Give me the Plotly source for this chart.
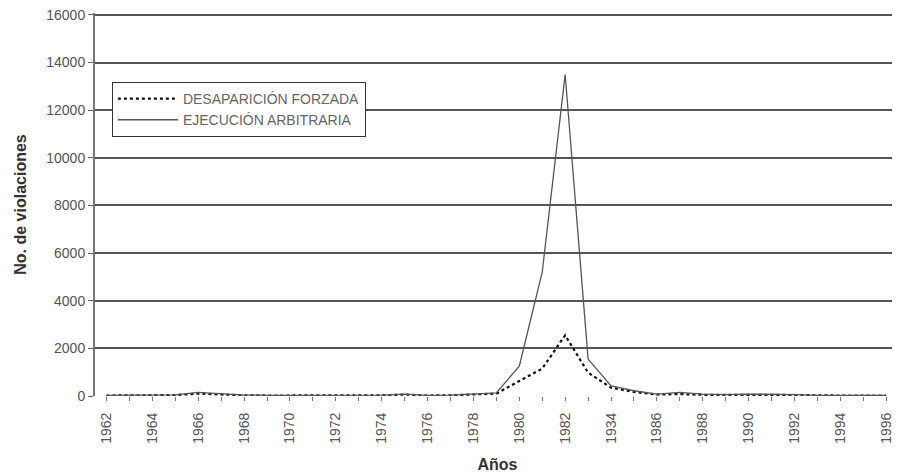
import plotly.graph_objects as go

years = list(range(1962, 1997))
ejecucion = [30, 30, 30, 50, 150, 100, 40, 30, 30, 30, 30, 30, 40, 80, 30, 40, 80, 130,
             1250, 5200, 13500, 1550, 420, 220, 80, 150, 80, 60, 80, 80, 60, 30, 20, 20, 20]
desaparicion = [20, 20, 20, 40, 100, 60, 30, 20, 20, 20, 20, 20, 30, 60, 20, 30, 60, 100,
                630, 1150, 2550, 980, 350, 170, 60, 80, 50, 60, 60, 50, 40, 20, 20, 20, 20]
tick_years = list(range(1962, 1997, 2))
tick_labels = ["1962", "1964", "1966", "1968", "1970", "1972", "1974", "1976", "1978",
               "1980", "1982", "1934", "1986", "1988", "1990", "1992", "1994", "1996"]
y_ticks = [0, 2000, 4000, 6000, 8000, 10000, 12000, 14000, 16000]
y_labels = ["0", "2000", "4000", "6000", "8000", "10000", "12000", "14000", "16000"]

fig = go.Figure()
fig.add_trace(go.Scatter(x=years, y=desaparicion, mode="lines", name="DESAPARICIÓN FORZADA",
                         line=dict(color="#111111", width=2.2, dash="dot")))
fig.add_trace(go.Scatter(x=years, y=ejecucion, mode="lines", name="EJECUCIÓN ARBITRARIA",
                         line=dict(color="#555555", width=1.3)))

fig.update_layout(
    width=892, height=467,
    margin=dict(l=87, r=0, t=5, b=79),
    paper_bgcolor="white", plot_bgcolor="white",
    font=dict(family="Liberation Sans, Arial", color="#555555", size=13),
    showlegend=True,
    legend=dict(x=0.021, y=0.82, xanchor="left", yanchor="top",
                bgcolor="white", bordercolor="#333333", borderwidth=1,
                font=dict(size=14, color="#666666"), tracegroupgap=0,
                itemwidth=60),
    xaxis=dict(range=[1961.5, 1996.6], tickmode="array", tickvals=tick_years,
               ticktext=tick_labels, tickangle=-90, ticks="outside", ticklen=4,
               tickcolor="#777777", showgrid=False, zeroline=False,
               showline=False, tickfont=dict(size=14, color="#555555"),
               ticklabelstandoff=6,
               minor=dict(tickvals=years, ticks="outside", ticklen=4, tickcolor="#777777"),
               title=dict(text="<b>Años</b>", font=dict(size=16, color="#333333"), standoff=16)),
    yaxis=dict(range=[0, 16080], tickmode="array", tickvals=y_ticks, ticktext=y_labels,
               ticks="outside", ticklen=5, tickcolor="#666666",
               showgrid=True, gridcolor="#555555", gridwidth=1.5,
               showline=True, linecolor="#777777", linewidth=2,
               zeroline=False, tickfont=dict(size=14, color="#555555"),
               ticklabeloverflow="allow",
               title=dict(text="<b>No. de violaciones</b>", font=dict(size=16, color="#333333"), standoff=16)),
)

fig.write_html("out.html")
